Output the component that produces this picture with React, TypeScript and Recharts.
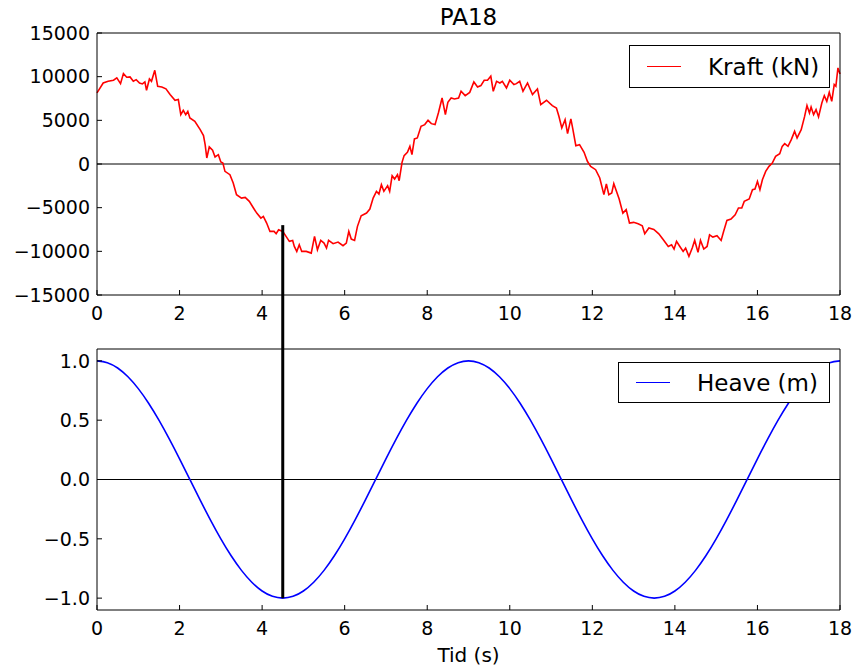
import React from "react";
import {
  LineChart,
  Line,
  XAxis,
  YAxis,
  ReferenceLine,
  Legend,
} from "recharts";

// Kraft (kN) (irregular time stamps, seconds)
const kraftTime = [
  0.0, 0.15, 0.27, 0.4, 0.48, 0.57, 0.64, 0.72, 0.8, 0.88, 0.95, 1.03, 1.1, 1.16, 1.2, 1.27, 1.32, 1.4,
  1.47, 1.57, 1.67, 1.77, 1.89, 1.97, 2.03, 2.09, 2.15, 2.2, 2.25, 2.37, 2.5, 2.58, 2.62, 2.66, 2.72,
  2.8, 2.86, 2.94, 3.0, 3.05, 3.1, 3.22, 3.3, 3.38, 3.5, 3.59, 3.69, 3.79, 3.87, 3.97, 4.03, 4.11, 4.19,
  4.29, 4.34, 4.4, 4.5, 4.58, 4.66, 4.74, 4.78, 4.84, 4.9, 4.96, 5.07, 5.19, 5.27, 5.34, 5.42, 5.5,
  5.56, 5.61, 5.72, 5.84, 5.96, 6.04, 6.1, 6.16, 6.24, 6.31, 6.4, 6.53, 6.61, 6.69, 6.77, 6.83, 6.89,
  6.95, 7.04, 7.09, 7.15, 7.21, 7.28, 7.32, 7.39, 7.44, 7.52, 7.58, 7.63, 7.69, 7.76, 7.85, 7.94, 8.02,
  8.1, 8.19, 8.27, 8.36, 8.44, 8.5, 8.58, 8.66, 8.76, 8.82, 8.92, 9.03, 9.13, 9.22, 9.3, 9.38, 9.46,
  9.54, 9.6, 9.68, 9.76, 9.82, 9.92, 10.0, 10.1, 10.16, 10.24, 10.32, 10.43, 10.55, 10.67, 10.75,
  10.89, 11.03, 11.13, 11.19, 11.26, 11.34, 11.4, 11.48, 11.53, 11.6, 11.69, 11.8, 11.88, 11.96,
  12.08, 12.18, 12.28, 12.34, 12.4, 12.47, 12.52, 12.65, 12.74, 12.82, 12.9, 13.0, 13.11, 13.21,
  13.27, 13.37, 13.49, 13.61, 13.72, 13.84, 13.92, 13.98, 14.04, 14.12, 14.2, 14.26, 14.34, 14.42,
  14.48, 14.56, 14.62, 14.7, 14.78, 14.84, 14.92, 15.02, 15.12, 15.18, 15.26, 15.36, 15.46, 15.54,
  15.62, 15.68, 15.8, 15.88, 15.94, 16.0, 16.06, 16.12, 16.2, 16.28, 16.36, 16.44, 16.54, 16.6,
  16.66, 16.74, 16.82, 16.9, 16.96, 17.06, 17.14, 17.2, 17.26, 17.3, 17.36, 17.42, 17.48, 17.56,
  17.62, 17.68, 17.74, 17.8, 17.86, 17.9, 17.95, 18.0,
];
const kraftKN = [
  8140, 9280, 9470, 9590, 9860, 9200, 10350, 9930, 9970, 9470, 9660, 9280, 9170, 9400, 8440, 9740, 9470, 10730,
  8900, 8820, 8600, 7950, 7300, 7380, 5650, 6150, 5650, 6030, 5270, 4890, 3930, 3250, 2220, 690, 1950,
  1570, 800, 1070, 230, 110, -840, -1220, -2180, -3510, -3900, -3820, -4280, -5040, -5620, -6190, -6000, -6760, -7720,
  -7720, -7980, -7530, -7720, -8290, -8860, -8750, -9440, -10010, -9250, -10010, -10010, -10200, -8290, -9820, -8750, -9060,
  -9630, -8750, -9130, -8940, -9360, -9060, -7720, -8600, -8750, -7140, -5920, -5620, -5160, -3900, -3130, -3440, -2370,
  -3130, -2480, -3130, -1340, -1720, -1220, -1910, 190, 960, 1340, 2020, 1070, 2870, 2980, 4320, 4510, 5000,
  4620, 4510, 5840, 7560, 5650, 7070, 7560, 7450, 7560, 8330, 7830, 8200, 9400, 8820, 8980, 9590, 9590,
  10050, 8330, 9470, 9280, 9470, 8710, 9590, 9100, 9200, 9470, 8330, 9280, 7950, 8600, 6800,
  7300, 6690, 6420, 5460, 4130, 5080, 3480, 5160, 3930, 2100, 2220, 1340, 310, -270,
  -650, -1600, -3510, -2290, -3510, -3320, -2250, -4010, -5620, -5230, -6760, -6680, -6840, -7070,
  -7980, -7330, -7500, -8000, -8670, -9440, -9250, -9740, -8860, -9440, -10010, -9630, -10580, -9630,
  -8750, -10120, -8750, -9740, -9440, -8100, -8370, -8220, -8750, -7720, -6460, -6300, -5810, -5040,
  -5040, -4280, -4010, -2940, -2860, -1990, -2940, -1800, -840, -270, 110, 880, 1180, 2020,
  2330, 2020, 2790, 3740, 2980, 3930, 5390, 6690, 5840, 6530, 5650, 6230, 5390, 6990,
  7830, 7180, 8210, 7180, 9100, 8900, 11000, 10300,
];

// Heave (m), lower panel, every 0.25 s
const heaveTime = [
  0, 0.25, 0.5, 0.75, 1, 1.25, 1.5, 1.75, 2, 2.25, 2.5, 2.75, 3, 3.25, 3.5, 3.75, 4, 4.25, 4.5,
  4.75, 5, 5.25, 5.5, 5.75, 6, 6.25, 6.5, 6.75, 7, 7.25, 7.5, 7.75, 8, 8.25, 8.5, 8.75, 9,
  9.25, 9.5, 9.75, 10, 10.25, 10.5, 10.75, 11, 11.25, 11.5, 11.75, 12, 12.25, 12.5, 12.75, 13, 13.25, 13.5,
  13.75, 14, 14.25, 14.5, 14.75, 15, 15.25, 15.5, 15.75, 16, 16.25, 16.5, 16.75, 17, 17.25, 17.5, 17.75, 18,
];
const heaveM = [
  1.0, 0.985, 0.94, 0.866, 0.766, 0.643, 0.5, 0.342, 0.174, 0.0, -0.174, -0.342, -0.5, -0.643, -0.766, -0.866, -0.94, -0.985, -1.0,
  -0.985, -0.94, -0.866, -0.766, -0.643, -0.5, -0.342, -0.174, 0.0, 0.174, 0.342, 0.5, 0.643, 0.766, 0.866, 0.94, 0.985, 1.0,
  0.985, 0.94, 0.866, 0.766, 0.643, 0.5, 0.342, 0.174, 0.0, -0.174, -0.342, -0.5, -0.643, -0.766, -0.866, -0.94, -0.985, -1.0,
  -0.985, -0.94, -0.866, -0.766, -0.643, -0.5, -0.342, -0.174, 0.0, 0.174, 0.342, 0.5, 0.643, 0.766, 0.866, 0.94, 0.985, 1.0,
];

const timeTicks = [0, 2, 4, 6, 8, 10, 12, 14, 16, 18];
const kraftTicks = [-15000, -10000, -5000, 0, 5000, 10000, 15000];
const heaveTicks = [-1, -0.5, 0, 0.5, 1];

// marker: time of the heave trough and the force there
const markerTime = 4.5;
const markerKraft = -7000;
const markerHeave = -1;

const FONT = '"DejaVu Sans", Verdana, sans-serif';
const TICK = { fill: "#000", fontSize: 19, fontFamily: FONT };
const minus = (s: string) => s.replace("-", "\u2212");

const kraftData = kraftTime.map((t, i) => ({ t, kraft: kraftKN[i] }));
const heaveData = heaveTime.map((t, i) => ({ t, heave: heaveM[i] }));

function LegendBox(props: any) {
  const item = (props.payload || [])[0];
  if (!item) return null;
  return (
    <div
      style={{
        boxSizing: "border-box",
        height: "100%",
        width: "100%",
        border: "1.5px solid #000",
        background: "#fff",
        display: "flex",
        alignItems: "center",
        fontFamily: FONT,
        fontSize: 23,
        color: "#000",
      }}
    >
      <span
        style={{
          display: "inline-block",
          width: 34,
          marginLeft: 17,
          marginRight: 27,
          borderTop: `1.5px solid ${item.color}`,
        }}
      />
      <span>{item.value}</span>
    </div>
  );
}

export default function App() {
  return (
    <div style={{ position: "absolute", left: 0, top: 0, width: 856, height: 668, background: "#fff" }}>
      <div style={{ position: "absolute", left: 0, top: 0 }}>
        <LineChart
          width={856}
          height={349}
          data={kraftData}
          margin={{ top: 32, right: 15, bottom: 24, left: 17 }}
        >
          <XAxis
            dataKey="t"
            type="number"
            domain={[0, 18]}
            ticks={timeTicks}
            interval={0}
            height={30}
            tick={TICK}
            tickSize={-5}
            tickMargin={17}
            stroke="#000"
          />
          <XAxis
            xAxisId="top"
            orientation="top"
            dataKey="t"
            type="number"
            domain={[0, 18]}
            ticks={timeTicks}
            interval={0}
            height={1}
            tick={false}
            tickSize={-5}
            stroke="#000"
            label={{ value: "PA18", position: "top", offset: 7, fill: "#000", fontSize: 23, fontFamily: FONT }}
          />
          <YAxis
            type="number"
            domain={[-15000, 15000]}
            ticks={kraftTicks}
            interval={0}
            width={80}
            tick={TICK}
            tickSize={-5}
            tickMargin={12}
            tickFormatter={(v: number) => minus(String(v))}
            stroke="#000"
          />
          <YAxis
            yAxisId="r"
            orientation="right"
            type="number"
            domain={[-15000, 15000]}
            ticks={kraftTicks}
            interval={0}
            width={1}
            tick={false}
            tickSize={-5}
            stroke="#000"
          />
          <ReferenceLine y={0} stroke="#000" strokeWidth={1} />
          <Line
            type="linear"
            dataKey="kraft"
            name="Kraft (kN)"
            stroke="#ff0000"
            strokeWidth={1.6}
            dot={false}
            isAnimationActive={false}
          />
          <ReferenceLine
            segment={[
              { x: markerTime, y: markerKraft },
              { x: markerTime, y: -25000 },
            ]}
            stroke="#000"
            strokeWidth={3}
            ifOverflow="visible"
          />
          <Legend
            layout="vertical"
            align="center"
            verticalAlign="middle"
            content={<LegendBox />}
            wrapperStyle={{ top: 45, left: 629, width: 201, height: 43 }}
          />
        </LineChart>
      </div>
      <div style={{ position: "absolute", left: 0, top: 348 }}>
        <LineChart
          width={856}
          height={320}
          data={heaveData}
          margin={{ top: 0, right: 15, bottom: 0, left: 17 }}
        >
          <XAxis
            dataKey="t"
            type="number"
            domain={[0, 18]}
            ticks={timeTicks}
            interval={0}
            height={58}
            tick={TICK}
            tickSize={-5}
            tickMargin={17}
            stroke="#000"
            label={{ value: "Tid (s)", position: "insideBottom", offset: 6, fill: "#000", fontSize: 20, fontFamily: FONT }}
          />
          <XAxis
            xAxisId="top"
            orientation="top"
            dataKey="t"
            type="number"
            domain={[0, 18]}
            ticks={timeTicks}
            interval={0}
            height={1}
            tick={false}
            tickSize={-5}
            stroke="#000"
          />
          <YAxis
            type="number"
            domain={[-1.1, 1.1]}
            ticks={heaveTicks}
            interval={0}
            width={80}
            tick={TICK}
            tickSize={-5}
            tickMargin={12}
            tickFormatter={(v: number) => minus(v.toFixed(1))}
            stroke="#000"
          />
          <YAxis
            yAxisId="r"
            orientation="right"
            type="number"
            domain={[-1.1, 1.1]}
            ticks={heaveTicks}
            interval={0}
            width={1}
            tick={false}
            tickSize={-5}
            stroke="#000"
          />
          <ReferenceLine y={0} stroke="#000" strokeWidth={1} />
          <Line
            type="natural"
            dataKey="heave"
            name="Heave (m)"
            stroke="#0000ff"
            strokeWidth={1.6}
            dot={false}
            isAnimationActive={false}
          />
          <ReferenceLine
            segment={[
              { x: markerTime, y: markerHeave },
              { x: markerTime, y: 1.1 },
            ]}
            stroke="#000"
            strokeWidth={3}
            ifOverflow="visible"
          />
          <Legend
            layout="vertical"
            align="center"
            verticalAlign="middle"
            content={<LegendBox />}
            wrapperStyle={{ top: 14, left: 618, width: 212, height: 41 }}
          />
        </LineChart>
      </div>
    </div>
  );
}
